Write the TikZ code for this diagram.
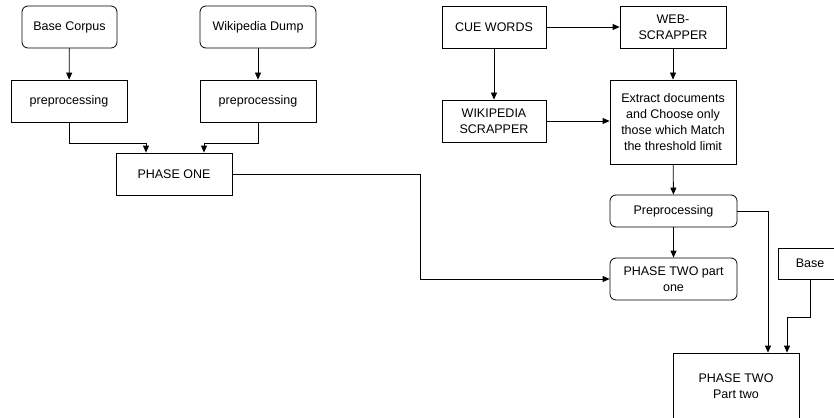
\documentclass[tikz,border=0pt]{standalone}
\usepackage{fontspec}
\setmainfont{Liberation Sans}
\usetikzlibrary{positioning,calc,arrows.meta}

\tikzset{
    block/.style={draw, line width=0.8pt, align=center, inner sep=2pt,
        font=\fontsize{12.5}{16}\selectfont},
    rblock/.style={block, rounded corners=6pt},
    arr/.style={-{Triangle[length=7pt,width=6pt]}, line width=0.8pt}
}

\begin{document}
\begin{tikzpicture}[x=1pt, y=-1pt]
    \useasboundingbox (0,0) rectangle (834,417);

    % Phase one branch
    \node[rblock, minimum width=95pt, minimum height=42pt] (corpus) at (69.5,27) {Base Corpus};
    \node[rblock, minimum width=116pt, minimum height=42pt] (dump) at (258,27) {Wikipedia Dump};
    \node[block, minimum width=116pt, minimum height=42pt] (pre1) at (69,101) {preprocessing};
    \node[block, minimum width=116pt, minimum height=42pt] (pre2) at (258,101) {preprocessing};
    \node[block, minimum width=116pt, minimum height=42pt] (phase1) at (174,174) {PHASE ONE};

    \draw[arr] (corpus) -- (pre1);
    \draw[arr] (dump) -- (pre2);
    \draw[arr] (pre1.south) -- ++(0,21) -| ([xshift=-28pt]phase1.north);
    \draw[arr] (pre2.south) -- ++(0,21) -| ([xshift=30pt]phase1.north);

    % Phase two branch
    \node[block, minimum width=104pt, minimum height=42pt] (cue) at (494,27) {CUE WORDS};
    \node[block, minimum width=106pt, minimum height=42pt] (web) at (673,27) {WEB-\\SCRAPPER};
    \node[block, minimum width=104pt, minimum height=42pt] (wiki) at (494,121) {WIKIPEDIA\\SCRAPPER};
    \node[block, minimum width=126pt, minimum height=84pt] (extract) at (673,122)
        {Extract documents\\and Choose only\\those which Match\\the threshold limit};
    \node[rblock, minimum width=127pt, minimum height=32pt] (prep) at (673.5,211) {Preprocessing};
    \node[rblock, minimum width=127pt, minimum height=42pt] (p2a) at (673.5,279) {PHASE TWO part\\one};
    \node[block, minimum width=64pt, minimum height=31pt] (base) at (810,263.5) {Base};
    \node[block, minimum width=126pt, minimum height=66pt] (p2b) at (736,386) {PHASE TWO\\Part two};

    \draw[arr] (cue) -- (web);
    \draw[arr] (cue) -- (wiki);
    \draw[arr] (wiki) -- (extract.west |- wiki);
    \draw[arr] (web) -- (extract);
    \draw[arr] (extract) -- (prep);
    \draw[arr] (prep) -- (p2a);

    \coordinate (bend) at (420,174);
    \draw[arr] (phase1.east) -- (bend) |- (p2a.west);
    \draw[arr] (prep.east) -| ([xshift=32pt]p2b.north);
    \draw[arr] (base.south) -- ++(0,38) -| ([xshift=51pt]p2b.north);
\end{tikzpicture}
\end{document}
